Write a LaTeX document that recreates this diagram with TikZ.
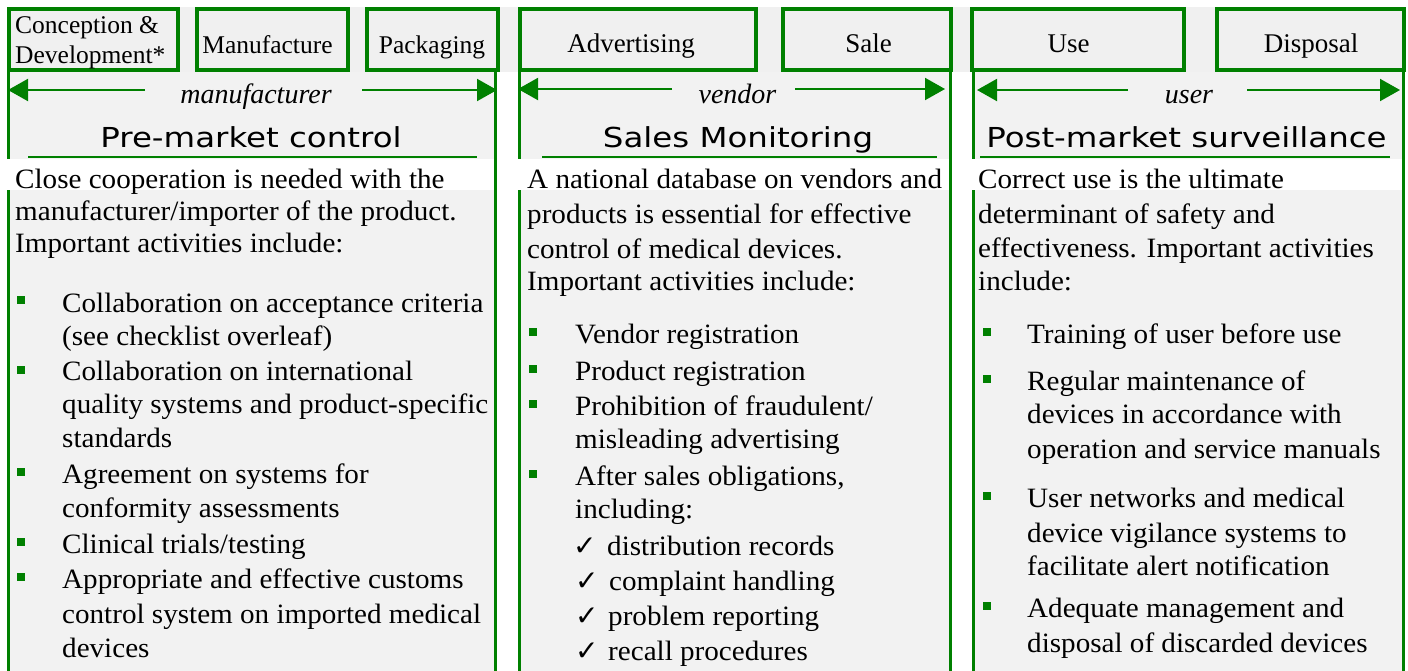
\documentclass[tikz,border=0pt]{standalone}
\usepackage{fontspec}
\setmainfont{Liberation Serif}
\newfontfamily\bodyf[FakeStretch=1.04]{Liberation Serif}
\newfontfamily\headf[FakeStretch=1.18]{DejaVu Sans}
\newfontfamily\symf{DejaVu Sans}
\usetikzlibrary{arrows.meta}
\definecolor{grn}{RGB}{0,128,0}
\definecolor{panelgrey}{RGB}{242,242,242}
\definecolor{stripgrey}{RGB}{240,240,240}
\begin{document}
\begin{tikzpicture}[x=1pt,y=-1pt,
  topbox/.style={draw=grn, line width=4pt, fill=stripgrey, inner sep=0pt},
  panel/.style={fill=panelgrey, inner sep=0pt, anchor=north west},
  side/.style={draw=grn, line width=3pt},
  body/.style={anchor=base west, inner sep=0pt, font=\bodyf\fontsize{28}{32}\selectfont},
  head/.style={anchor=base, inner sep=0pt, font=\headf\fontsize{27.5}{32}\selectfont},
  role/.style={anchor=base, inner sep=0pt, font=\itshape\fontsize{28}{32}\selectfont},
  stagea/.style={inner sep=0pt, font=\fontsize{25.5}{30}\selectfont},
  stageb/.style={anchor=base, inner sep=0pt, font=\fontsize{27}{30}\selectfont},
  bul/.style={fill=grn, inner sep=0pt, minimum size=8pt},
  chk/.style={anchor=base west, inner sep=0pt, font=\symf\fontsize{28}{32}\selectfont},
  rolearrow/.style={draw=grn, line width=2pt, -{Triangle[length=20pt,width=22pt]}},
  rulel/.style={draw=grn, line width=2pt}
]
\useasboundingbox (0,0) rectangle (1408,670);
\fill[white] (0,0) rectangle (1408,670);
% top strip
\fill[stripgrey] (7,7) rectangle (1406,72);
% panels
\node[panel, minimum width=490pt, minimum height=620pt] (P1) at (7,72) {};
\node[panel, minimum width=434pt, minimum height=620pt] (P2) at (518,72) {};
\node[panel, minimum width=433pt, minimum height=620pt] (P3) at (972,72) {};
% white band behind first lines
\fill[white] (5,159) rectangle (494,190);
\fill[white] (516,159) rectangle (949,190);
\fill[white] (970,159) rectangle (1402,190);
% panel sides
\coordinate (p1t) at (8.5,72); \coordinate (p1m) at (8.5,159); \coordinate (p1n) at (8.5,190); \coordinate (p1b) at (8.5,690);
\coordinate (p2t) at (519.5,72); \coordinate (p2m) at (519.5,159); \coordinate (p2n) at (519.5,190); \coordinate (p2b) at (519.5,690);
\coordinate (p3t) at (973.5,72); \coordinate (p3m) at (973.5,159); \coordinate (p3n) at (973.5,190); \coordinate (p3b) at (973.5,690);
\draw[side] (p1t) -- (p1m); \draw[side] (p1n) -- (p1b);
\draw[side] (p2t) -- (p2m); \draw[side] (p2n) -- (p2b);
\draw[side] (p3t) -- (p3m); \draw[side] (p3n) -- (p3b);
\draw[side] ([xshift=-1.5pt]P1.north east) -- ([xshift=-1.5pt]P1.south east);
\draw[side] ([xshift=-1.5pt]P2.north east) -- ([xshift=-1.5pt]P2.south east);
\draw[side] ([xshift=-1.5pt]P3.north east) -- ([xshift=-1.5pt]P3.south east);
% stage boxes
\node[topbox, minimum width=169pt, minimum height=61pt] (cd) at (93.5,39.5) {};
\node[topbox, minimum width=151pt, minimum height=61pt] (mf) at (272.5,39.5) {};
\node[topbox, minimum width=131pt, minimum height=61pt] (pk) at (432.5,39.5) {};
\node[topbox, minimum width=236pt, minimum height=61pt] (ad) at (638,39.5) {};
\node[topbox, minimum width=168pt, minimum height=61pt] (sa) at (867,39.5) {};
\node[topbox, minimum width=212pt, minimum height=61pt] (us) at (1078,39.5) {};
\node[topbox, minimum width=187pt, minimum height=61pt] (di) at (1310.5,39.5) {};
\node[stagea, anchor=base west] (cdt1) at (15,33) {Conception \&};
\node[stagea, anchor=base west] (cdt2) at (15,63) {Development*};
\node[stagea, anchor=base] (mft) at (267.5,53) {Manufacture};
\node[stagea, anchor=base] (pkt) at (432,53) {Packaging};
\node[stageb] (adt) at (631,52) {Advertising};
\node[stageb] (sat) at (868.5,52) {Sale};
\node[stageb] (ust) at (1068.5,52) {Use};
\node[stageb] (dit) at (1311,52) {Disposal};
% role arrows
\coordinate (m1a) at (145,90); \coordinate (m1b) at (8,90);
\coordinate (m2a) at (362,90); \coordinate (m2b) at (497,90);
\coordinate (v1a) at (672,89); \coordinate (v1b) at (518,89);
\coordinate (v2a) at (795,89); \coordinate (v2b) at (945,89);
\coordinate (u1a) at (1128,90); \coordinate (u1b) at (977,90);
\coordinate (u2a) at (1247,90); \coordinate (u2b) at (1400,90);
\draw[rolearrow] (m1a) -- (m1b);
\draw[rolearrow] (m2a) -- (m2b);
\draw[rolearrow] (v1a) -- (v1b);
\draw[rolearrow] (v2a) -- (v2b);
\draw[rolearrow] (u1a) -- (u1b);
\draw[rolearrow] (u2a) -- (u2b);
\node[role] (rm) at (256,103) {manufacturer};
\node[role] (rv) at (737.5,103) {vendor};
\node[role] (ru) at (1189,103) {user};
% headings
\node[head] (h1) at (251,147) {Pre-market control};
\node[head] (h2) at (738,147) {Sales Monitoring};
\node[head] (h3) at (1186.5,147) {Post-market surveillance};
\coordinate (r1a) at (28,157); \coordinate (r1b) at (477,157);
\coordinate (r2a) at (542,157); \coordinate (r2b) at (937,157);
\coordinate (r3a) at (980,157); \coordinate (r3b) at (1390,157);
\draw[rulel] (r1a) -- (r1b);
\draw[rulel] (r2a) -- (r2b);
\draw[rulel] (r3a) -- (r3b);
% panel 1 text
\node[body] (a1) at (15,188) {Close cooperation is needed with the};
\node[body] (a2) at (15,220) {manufacturer/importer of the product.};
\node[body] (a3) at (15,252) {Important activities include:};
\node[bul] (ab1) at (20.5,300) {};
\node[body] (a4) at (62,312) {Collaboration on acceptance criteria};
\node[body] (a5) at (62,345) {(see checklist overleaf)};
\node[bul] (ab2) at (20.5,370) {};
\node[body] (a6) at (62,380) {Collaboration on international};
\node[body] (a7) at (62,413) {quality systems and product-specific};
\node[body] (a8) at (62,447) {standards};
\node[bul] (ab3) at (20.5,472) {};
\node[body] (a9) at (62,483) {Agreement on systems for};
\node[body] (a10) at (62,517) {conformity assessments};
\node[bul] (ab4) at (20.5,542) {};
\node[body] (a11) at (62,553) {Clinical trials/testing};
\node[bul] (ab5) at (20.5,577) {};
\node[body] (a12) at (62,588) {Appropriate and effective customs};
\node[body] (a13) at (62,623) {control system on imported medical};
\node[body] (a14) at (62,657) {devices};
% panel 2 text
\node[body] (b1) at (527,188) {A national database on vendors and};
\node[body] (b2) at (527,223) {products is essential for effective};
\node[body] (b3) at (527,258) {control of medical devices.};
\node[body] (b4) at (527,290) {Important activities include:};
\node[bul] (bb1) at (532.5,332) {};
\node[body] (b5) at (575,343) {Vendor registration};
\node[bul] (bb2) at (532.5,369) {};
\node[body] (b6) at (575,380) {Product registration};
\node[bul] (bb3) at (532.5,404) {};
\node[body] (b7) at (575,415) {Prohibition of fraudulent/};
\node[body] (b8) at (575,448) {misleading advertising};
\node[bul] (bb4) at (532.5,474) {};
\node[body] (b9) at (575,485) {After sales obligations,};
\node[body] (b10) at (575,518) {including:};
\node[chk] (bc1) at (573,555) {✓};
\node[body] (b11) at (607,555) {distribution records};
\node[chk] (bc2) at (575,590) {✓};
\node[body] (b12) at (609,590) {complaint handling};
\node[chk] (bc3) at (575,625) {✓};
\node[body] (b13) at (608,625) {problem reporting};
\node[chk] (bc4) at (575,660) {✓};
\node[body] (b14) at (608,660) {recall procedures};
% panel 3 text
\node[body] (c1) at (978,188) {Correct use is the ultimate};
\node[body] (c2) at (978,223) {determinant of safety and};
\node[body] (c3) at (978,257) {effectiveness. Important activities};
\node[body] (c4) at (978,290) {include:};
\node[bul] (cb1) at (986.5,332) {};
\node[body] (c5) at (1027,343) {Training of user before use};
\node[bul] (cb2) at (986.5,379) {};
\node[body] (c6) at (1027,390) {Regular maintenance of};
\node[body] (c7) at (1027,423) {devices in accordance with};
\node[body] (c8) at (1027,458) {operation and service manuals};
\node[bul] (cb3) at (986.5,496) {};
\node[body] (c9) at (1027,507) {User networks and medical};
\node[body] (c10) at (1027,542) {device vigilance systems to};
\node[body] (c11) at (1027,575) {facilitate alert notification};
\node[bul] (cb4) at (986.5,606) {};
\node[body] (c12) at (1027,617) {Adequate management and};
\node[body] (c13) at (1027,652) {disposal of discarded devices};
\end{tikzpicture}
\end{document}
